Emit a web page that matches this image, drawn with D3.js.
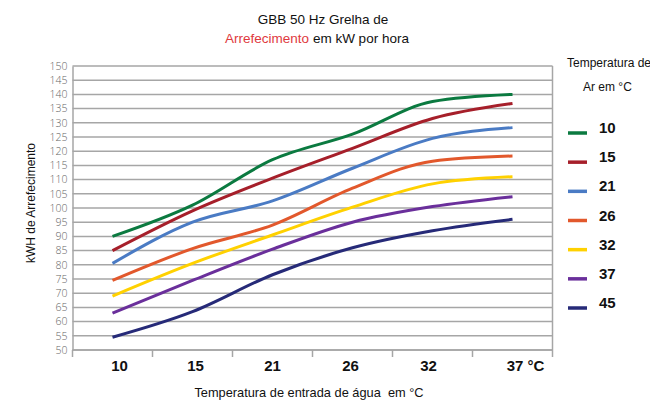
<!DOCTYPE html>
<html><head><meta charset="utf-8">
<script src="https://cdn.jsdelivr.net/npm/d3@7"></script>
<style>body{margin:0;background:#fff}svg{display:block}</style>
</head><body><svg id="c" width="650" height="400"></svg>
<script>
const categories = ["10","15","21","26","32","37"];
const tickLabels = ["10","15","21","26","32","37 °C"];
const seriesNames = ["10","15","21","26","32","37","45"];
const colors = ["#0b7a40","#a61f2a","#4a7bc4","#e2582c","#ffd100","#6a2f9b","#262a78"];
const s10 = [90, 101, 117, 126, 137.5, 140];
const s15 = [85, 99, 110.5, 121, 131.5, 136.8];
const s21 = [80.5, 95, 102.5, 114, 124.5, 128.3];
const s26 = [74.5, 85.7, 94, 107, 116.5, 118.3];
const s32 = [69, 80.5, 90.5, 100.3, 108.5, 111];
const s37 = [63, 74.5, 85.5, 95, 100.5, 104];
const s45 = [54.5, 63.5, 76.5, 86, 92, 96];
const series = [s10, s15, s21, s26, s32, s37, s45];
const yTicks = d3.range(50, 151, 5);

const svg = d3.select("#c");
const x = d3.scaleBand().domain(categories).range([72.5, 552.5]);
const y = d3.scaleLinear().domain([50, 150]).range([350, 66]);

// grid
svg.append("g").selectAll("line").data(yTicks).join("line")
  .attr("x1", x.range()[0]).attr("x2", x.range()[1])
  .attr("y1", d => y(d)).attr("y2", d => y(d))
  .attr("stroke", "#a6a6a6").attr("stroke-width", 1.5);
// right border
svg.append("line").attr("x1", x.range()[1]).attr("x2", x.range()[1])
  .attr("y1", y(150)).attr("y2", y(50)).attr("stroke", "#a6a6a6").attr("stroke-width", 1.5);

// y axis
const ya = svg.append("g").attr("transform", `translate(${x.range()[0]},0)`)
  .call(d3.axisLeft(y).tickValues(yTicks).tickSize(0).tickPadding(5));
ya.select(".domain").attr("stroke", "#a6a6a6").attr("stroke-width", 1.5);
ya.selectAll("text").attr("font-family", "Open Sans, sans-serif").attr("font-size", 10.5)
  .attr("fill", "#666").attr("font-weight", 300);

// x axis
const xa = svg.append("g").attr("transform", `translate(0,${y(50)})`)
  .call(d3.axisBottom(x).tickSize(0).tickFormat((d, i) => tickLabels[i]));
xa.select(".domain").remove();
xa.append("line").attr("x1", x.range()[0]).attr("x2", x.range()[1]).attr("stroke", "#a6a6a6").attr("stroke-width", 1.5);
xa.selectAll(".bnd").data(categories.concat(["end"])).join("line").attr("class","bnd")
  .attr("x1", (d, i) => i < categories.length ? x(d) : x.range()[1])
  .attr("x2", (d, i) => i < categories.length ? x(d) : x.range()[1])
  .attr("y1", 0).attr("y2", 7).attr("stroke", "#a6a6a6").attr("stroke-width", 1.5);
xa.selectAll(".tick text").attr("font-family", "Liberation Sans, Arial, sans-serif")
  .attr("font-size", 15).attr("font-weight", "bold").attr("fill", "#111")
  .attr("y", 10).attr("dy", "0.71em")
  .attr("dx", (d, i) => [7, 3, 0, -2, -4, 13][i]);

// lines
const line = d3.line().x((d, i) => x(categories[i]) + x.bandwidth() / 2).y(d => y(d))
  .curve(d3.curveMonotoneX);
svg.append("g").selectAll("path").data(series).join("path")
  .attr("d", d => line(d)).attr("fill", "none")
  .attr("stroke", (d, i) => colors[i]).attr("stroke-width", 3);

// title
const t = svg.append("text").attr("x", 323).attr("y", 24).attr("text-anchor", "middle")
  .attr("font-family", "Liberation Sans, Arial, sans-serif").attr("font-size", 13.5).attr("fill", "#111");
t.append("tspan").text("GBB 50 Hz Grelha de");
const t2 = svg.append("text").attr("x", 317).attr("y", 43).attr("text-anchor", "middle")
  .attr("font-family", "Liberation Sans, Arial, sans-serif").attr("font-size", 13.5).attr("fill", "#111");
t2.append("tspan").attr("fill", "#e0393e").text("Arrefecimento");
t2.append("tspan").text(" em kW por hora");

// axis titles
svg.append("text").attr("transform", "translate(35,203) rotate(-90)").attr("text-anchor", "middle")
  .attr("font-family", "Liberation Sans, Arial, sans-serif").attr("font-size", 12).attr("fill", "#111")
  .text("kWH de Arrefecimento");
svg.append("text").attr("x", 309).attr("y", 397).attr("text-anchor", "middle")
  .attr("font-family", "Liberation Sans, Arial, sans-serif").attr("font-size", 12.8).attr("fill", "#111")
  .text("Temperatura de entrada de água\u00a0 em °C");

// legend
const lg = svg.append("g");
lg.append("text").attr("x", 567).attr("y", 67).attr("font-family", "Liberation Sans, Arial, sans-serif")
  .attr("font-size", 12).attr("fill", "#111").text("Temperatura de");
lg.append("text").attr("x", 583).attr("y", 91).attr("font-family", "Liberation Sans, Arial, sans-serif")
  .attr("font-size", 12).attr("fill", "#111").text("Ar em °C");
const ly = d3.scalePoint().domain(seriesNames).range([133, 308]);
const items = lg.selectAll("g.it").data(seriesNames).join("g").attr("class", "it")
  .attr("transform", d => `translate(0,${ly(d)})`);
items.append("line").attr("x1", 568).attr("x2", 587).attr("stroke", (d, i) => colors[i]).attr("stroke-width", 3.5);
items.append("text").attr("x", 599).attr("y", 0).attr("font-family", "Liberation Sans, Arial, sans-serif")
  .attr("font-size", 15).attr("font-weight", "bold").attr("fill", "#111").text(d => d);
</script></body></html>
